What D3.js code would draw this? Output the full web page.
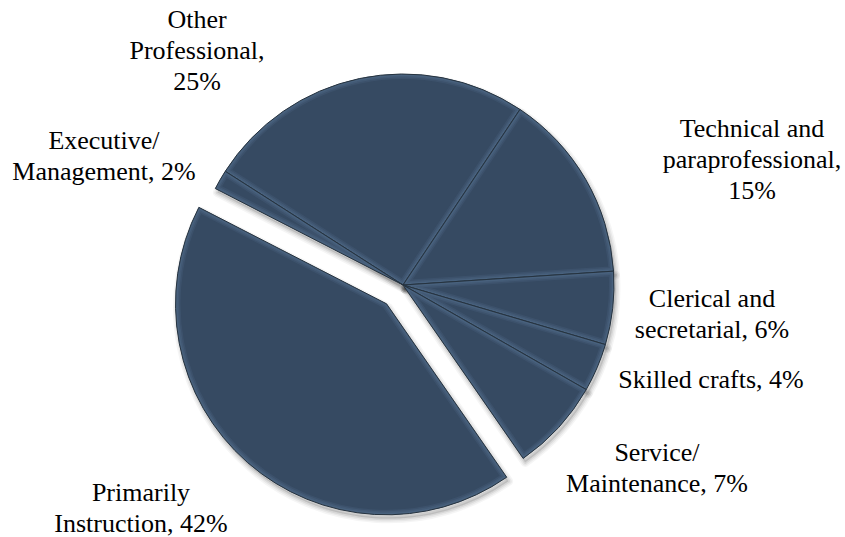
<!DOCTYPE html>
<html>
<head>
<meta charset="utf-8">
<script src="https://cdn.jsdelivr.net/npm/d3@7/dist/d3.min.js"></script>
</head>
<body style="margin:0">
<svg id="chart" width="845" height="537"></svg>
<script>
// Staff categories, listed clockwise starting from the top-left slice
const categories = [
  "Other Professional",
  "Technical and paraprofessional",
  "Clerical and secretarial",
  "Skilled crafts",
  "Service/ Maintenance",
  "Primarily Instruction",
  "Executive/ Management"
];
// Share of staff (percent)
const shares = [25.3, 14.6, 5.6, 3.7, 7.1, 42.2, 1.5];
// Label text lines for each category
const labelLines = [
  ["Other", "Professional,", "25%"],
  ["Technical and", "paraprofessional,", "15%"],
  ["Clerical and", "secretarial, 6%"],
  ["Skilled crafts, 4%"],
  ["Service/", "Maintenance, 7%"],
  ["Primarily", "Instruction, 42%"],
  ["Executive/", "Management, 2%"]
];
// Slice pulled out from the pie
const explodedCategory = "Primarily Instruction";

// ---- layout ----
const cx = 403, cy = 285, R = 211;
const explodeDist = 25;
const startDeg = -57.4;
const lineH = 31;
// anchor (center x, first baseline y) for each label block
const labelAnchor = {
  "Other Professional": [197, 28],
  "Technical and paraprofessional": [752, 137],
  "Clerical and secretarial": [712, 307],
  "Skilled crafts": [711, 388],
  "Service/ Maintenance": [657, 461],
  "Primarily Instruction": [141, 501],
  "Executive/ Management": [104, 149]
};

const baseFill = "#364a62";
const edgeLight = "#5a7597";
const edgeDark = "#26333f";

const svg = d3.select("#chart");
const defs = svg.append("defs");

const data = categories.map((c, i) => ({ category: c, value: shares[i], lines: labelLines[i] }));

const pie = d3.pie()
  .value(d => d.value)
  .sort(null)
  .startAngle(startDeg * Math.PI / 180)
  .endAngle(startDeg * Math.PI / 180 + 2 * Math.PI);

const arc = d3.arc().innerRadius(0).outerRadius(R);
const arcs = pie(data);

function offset(a) {
  if (a.data.category !== explodedCategory) return [0, 0];
  const mid = (a.startAngle + a.endAngle) / 2;
  return [explodeDist * Math.sin(mid), -explodeDist * Math.cos(mid)];
}

// labels
const labels = svg.append("g");
arcs.forEach(a => {
  const [x, y] = labelAnchor[a.data.category];
  a.data.lines.forEach((ln, k) => {
    labels.append("text")
      .attr("x", x)
      .attr("y", y + k * lineH)
      .style("font-family", "Liberation Serif")
      .style("font-size", "26px")
      .style("text-anchor", "middle")
      .text(ln);
  });
});

// soft drop shadow built from layered translucent outlines
const shadowG = svg.append("g");
[[9, 0.04], [6, 0.05], [3, 0.07]].forEach(([w, op]) => {
  shadowG.selectAll(null)
    .data(arcs)
    .join("path")
    .attr("transform", a => {
      const [dx, dy] = offset(a);
      return `translate(${cx + dx + 2},${cy + dy + 4})`;
    })
    .attr("d", arc)
    .attr("fill", "#000")
    .attr("fill-opacity", 0.04)
    .attr("stroke", "#000")
    .attr("stroke-opacity", op)
    .attr("stroke-width", w)
    .attr("stroke-linejoin", "round");
});

arcs.forEach((a, i) => {
  defs.append("clipPath").attr("id", "clip" + i)
    .append("path").attr("d", arc(a));
});

const slices = svg.append("g").selectAll("g.slice")
  .data(arcs)
  .join("g")
  .attr("class", "slice")
  .attr("transform", a => {
    const [dx, dy] = offset(a);
    return `translate(${cx + dx},${cy + dy})`;
  });

slices.append("path")
  .attr("d", arc)
  .attr("fill", baseFill);

// bevel highlight along the inside of every slice edge, fading inward
const bevel = slices.append("g")
  .attr("clip-path", (a, i) => `url(#clip${i})`);
[[10, 0.18], [7, 0.22], [4, 0.28]].forEach(([w, op]) => {
  bevel.append("path")
    .attr("d", arc)
    .attr("fill", "none")
    .attr("stroke", edgeLight)
    .attr("stroke-opacity", op)
    .attr("stroke-width", w)
    .attr("stroke-linejoin", "round");
});

slices.append("path")
  .attr("d", arc)
  .attr("fill", "none")
  .attr("stroke", edgeDark)
  .attr("stroke-width", 1)
  .attr("stroke-linejoin", "round");
</script>
</body>
</html>
